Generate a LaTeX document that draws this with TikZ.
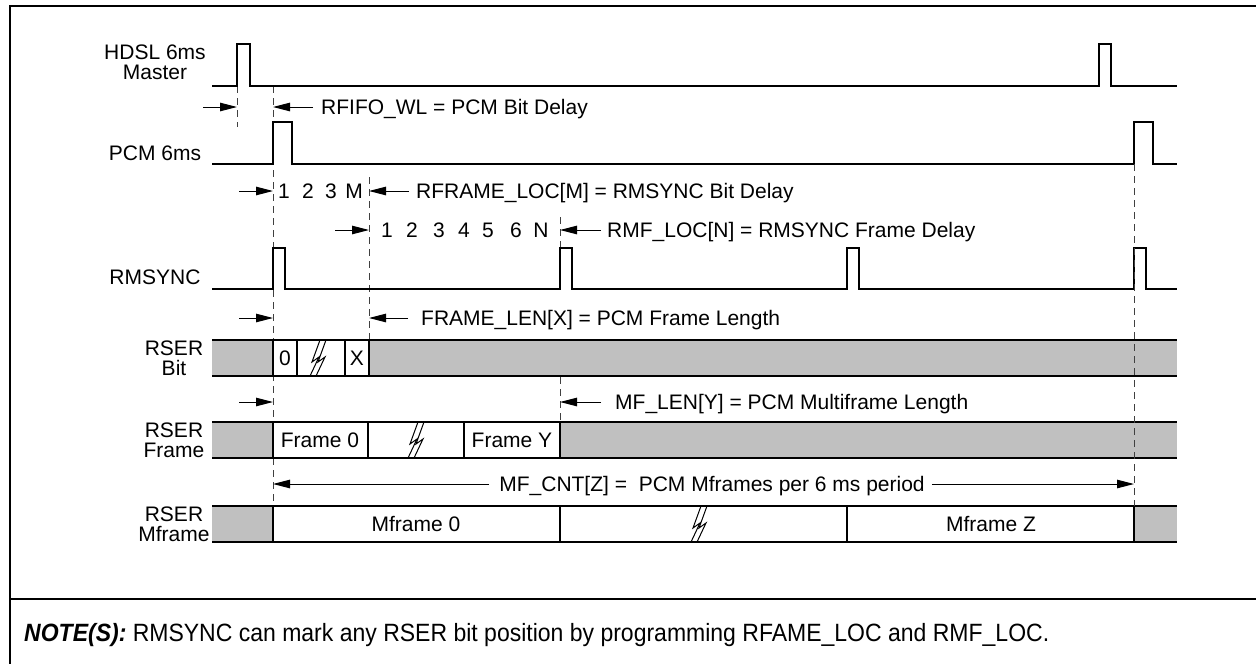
\documentclass[tikz,border=0pt]{standalone}
\usepackage{fontspec}
\setmainfont{Liberation Sans}
\newfontfamily\notefont[FakeStretch=0.92]{Liberation Sans}
\usetikzlibrary{arrows.meta}
\definecolor{bandgray}{RGB}{192,192,192}
\tikzset{
  sig/.style={line width=1.6pt, line join=miter},
  guide/.style={line width=0.8pt, dash pattern=on 7pt off 5pt, black!75},
  dim/.style={line width=1pt, -{Triangle[length=17pt,width=8.5pt]}},
  lbl/.style={font=\fontsize{21}{20}\selectfont, inner sep=0pt, text height=15pt, text depth=0pt},
  rowlbl/.style={font=\fontsize{21}{20}\selectfont, inner sep=0pt, align=center},
}
% break mark: x, top, bottom
\newcommand{\brkmark}[3]{%
  \foreach \o in {0,6} {
    \draw[line width=1pt] (#1+\o+5,#2) -- (#1+\o-3,{(#2+#3)/2+4}) -- (#1+\o+4,{(#2+#3)/2-1}) -- (#1+\o-5,#3);
  }
}
\begin{document}
\begin{tikzpicture}[x=1pt,y=-1pt]
  \useasboundingbox (0,0) rectangle (1256,664);
  \draw[line width=2.5pt] (10,664) -- (10,6) -- (1256,6);
  \draw[line width=2.5pt] (10,599) -- (1256,599);

  % guide lines
  \draw[guide] (237,86) -- (237,127);
  \draw[guide] (273,86) -- (273,506);
  \draw[guide] (369,177) -- (369,340);
  \draw[guide] (560,217) -- (560,248);
  \draw[guide] (560,377) -- (560,422);

  % signals
  \draw[sig] (212,86) -- (237,86) -- (237,44) -- (250,44) -- (250,86)
    -- (1099,86) -- (1099,44) -- (1111,44) -- (1111,86) -- (1177,86);
  \draw[sig] (212,164) -- (273,164) -- (273,122) -- (292,122) -- (292,164)
    -- (1134,164) -- (1134,122) -- (1153,122) -- (1153,164) -- (1177,164);
  \draw[sig] (212,289) foreach \p in {273,560,847,1134} {
    -- (\p,289) -- (\p,248) -- (\p+12,248) -- (\p+12,289) } -- (1177,289);

  \node[rowlbl] (hdsl) at (155,62) {HDSL 6ms\\Master};
  \node[rowlbl] (pcm) at (155,153) {PCM 6ms};
  \node[rowlbl] (rmsync) at (155,277) {RMSYNC};
  \node[rowlbl] (rserbit) at (174,358) {RSER\\Bit};
  \node[rowlbl] (rserframe) at (174,440) {RSER\\Frame};
  \node[rowlbl] (rsermf) at (174,524) {RSER\\Mframe};

  % RSER bit
  \fill[bandgray] (212,340) rectangle (1177,376);
  \fill[white] (273,340) rectangle (369,376);
  \draw[sig] (212,340) -- (1177,340) (212,376) -- (1177,376);
  \foreach \x in {273,297,345,369} \draw[sig] (\x,340) -- (\x,376);
  \brkmark{315}{340}{376}
  \node[lbl] (bit0) at (285,358) {0};
  \node[lbl] (bitx) at (357,358) {X};

  % RSER frame
  \fill[bandgray] (212,422) rectangle (1177,458);
  \fill[white] (273,422) rectangle (560,458);
  \draw[sig] (212,422) -- (1177,422) (212,458) -- (1177,458);
  \foreach \x in {273,368,464,560} \draw[sig] (\x,422) -- (\x,458);
  \brkmark{413}{422}{458}
  \node[lbl] (frame0) at (320,440) {Frame 0};
  \node[lbl] (framey) at (512,440) {Frame Y};

  % RSER mframe
  \fill[bandgray] (212,506) rectangle (1177,542);
  \fill[white] (273,506) rectangle (1134,542);
  \draw[sig] (212,506) -- (1177,506) (212,542) -- (1177,542);
  \foreach \x in {273,560,847,1134} \draw[sig] (\x,506) -- (\x,542);
  \brkmark{696}{506}{542}
  \node[lbl] (mframe0) at (416,524) {Mframe 0};
  \node[lbl] (mframez) at (991,524) {Mframe Z};

  \draw[guide] (1134,164) -- (1134,506);

  % delays
  \coordinate (hdslup) at (237,107);
  \coordinate (pcmup) at (273,107);
  \draw[dim] (203,107) -- (hdslup);
  \draw[dim] (313,107) -- (pcmup);
  \node[lbl, anchor=west] (rfifo) at (321,107) {RFIFO\_WL = PCM Bit Delay};

  \coordinate (bitstart) at (273,191);
  \coordinate (bitm) at (369,191);
  \draw[dim] (239,191) -- (bitstart);
  \foreach \c/\x in {1/284,2/308,3/331,M/354} \node[lbl] (bit\c) at (\x,191) {\c};
  \draw[dim] (409,191) -- (bitm);
  \node[lbl, anchor=west] (rframeloc) at (416,191) {RFRAME\_LOC[M] = RMSYNC Bit Delay};

  \coordinate (frstart) at (369,230);
  \coordinate (frn) at (560,230);
  \draw[dim] (335,230) -- (frstart);
  \foreach \c/\x in {1/387,2/412,3/439,4/464,5/488,6/516,N/541} \node[lbl] (fr\c) at (\x,230) {\c};
  \draw[dim] (601,230) -- (frn);
  \node[lbl, anchor=west] (rmfloc) at (607,230) {RMF\_LOC[N] = RMSYNC Frame Delay};

  \coordinate (flstart) at (273,318);
  \coordinate (flend) at (369,318);
  \draw[dim] (239,318) -- (flstart);
  \draw[dim] (408,318) -- (flend);
  \node[lbl, anchor=west] (framelen) at (421,318) {FRAME\_LEN[X] = PCM Frame Length};

  \coordinate (mlstart) at (273,402);
  \coordinate (mlend) at (560,402);
  \draw[dim] (239,402) -- (mlstart);
  \draw[dim] (601,402) -- (mlend);
  \node[lbl, anchor=west] (mflen) at (615,402) {MF\_LEN[Y] = PCM Multiframe Length};

  \coordinate (mcstart) at (273,484);
  \coordinate (mcend) at (1134,484);
  \node[lbl] (mfcnt) at (712,484) {MF\_CNT[Z] =\ \ PCM Mframes per 6 ms period};
  \draw[dim] ([xshift=-10pt]mfcnt.west) -- (mcstart);
  \draw[dim] ([xshift=7pt]mfcnt.east) -- (mcend);

  \node[anchor=base west, inner sep=0pt, font=\notefont\fontsize{25}{27}\selectfont] (note) at (24,641)
    {\textbf{\textit{NOTE(S):}} RMSYNC can mark any RSER bit position by programming RFAME\_LOC and RMF\_LOC.};
\end{tikzpicture}
\end{document}
